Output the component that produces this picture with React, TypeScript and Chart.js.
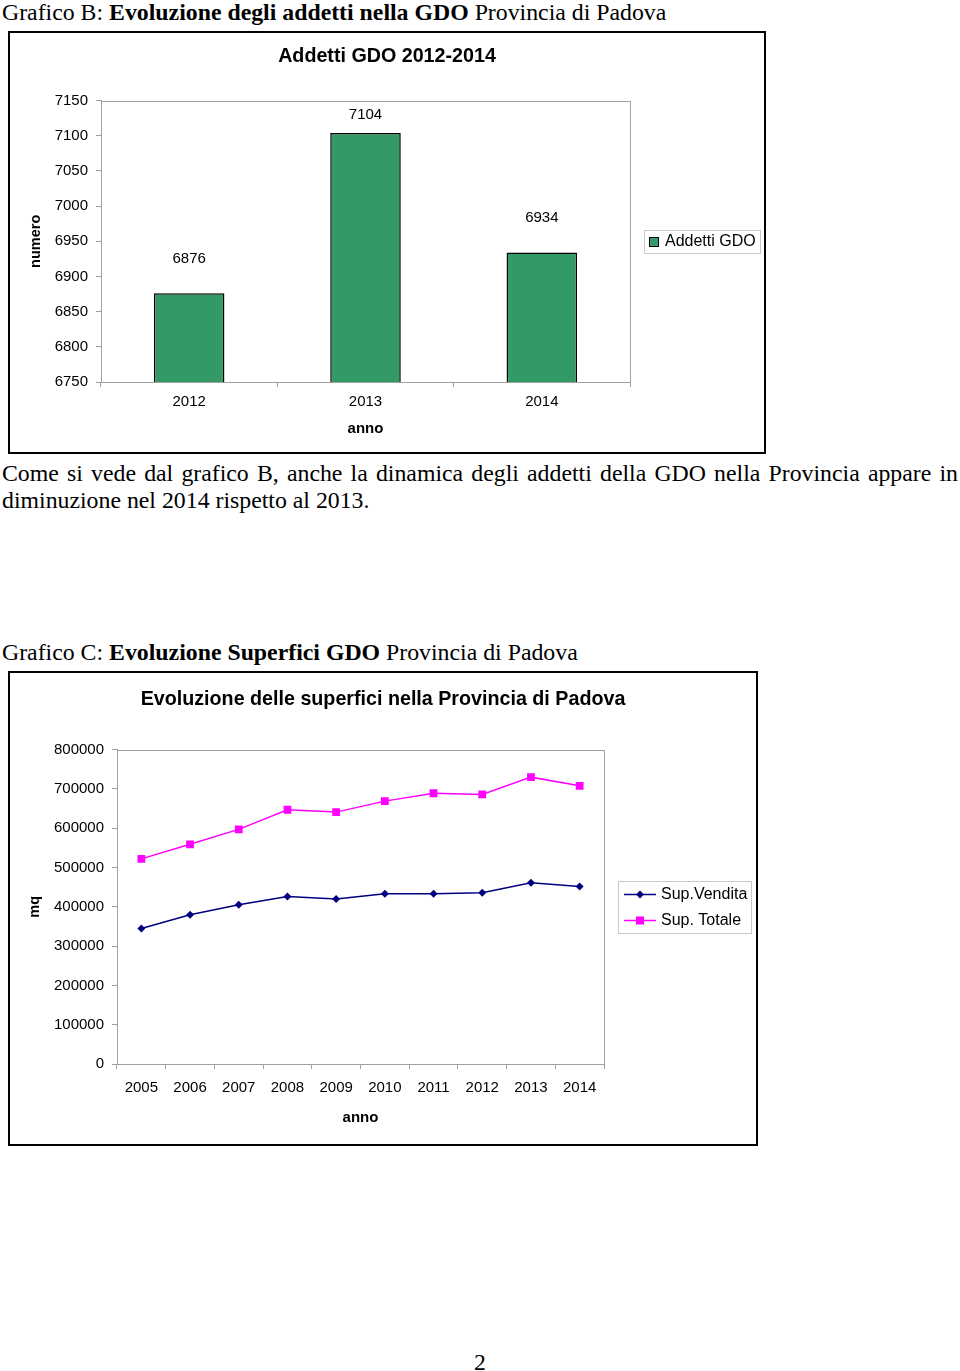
import React, { useEffect, useRef } from 'react';
import { Chart, registerables } from 'chart.js';

Chart.register(...registerables);

// ---------- DATA ----------
const addettiYears = ['2012', '2013', '2014'];
const addettiValues = [6876, 7104, 6934];
const addettiAxis = [6750, 7150, 50]; // min, max, step

const superficiYears = ['2005', '2006', '2007', '2008', '2009', '2010', '2011', '2012', '2013', '2014'];
const supVendita = [345000, 380000, 405000, 426000, 420000, 433000, 433000, 436000, 461000, 452000];
const supTotale = [522000, 559000, 597000, 647000, 641000, 669000, 689000, 686000, 730000, 708000];
const superficiAxis = [0, 800000, 100000]; // min, max, step

const SANS = "'Liberation Sans', Arial, sans-serif";
const SERIF = "'Liberation Serif', 'Times New Roman', serif";
const AXIS_GRAY = '#a0a0a0';

Chart.defaults.font.family = SANS;
Chart.defaults.color = '#000';

const plainNumber = (v: any) => String(v);

// ---------- PLUGINS ----------
const plotBorder = {
  id: 'plotBorder',
  beforeDatasetsDraw(chart: any) {
    const { ctx, chartArea: a } = chart;
    ctx.save();
    ctx.strokeStyle = AXIS_GRAY;
    ctx.lineWidth = 1;
    ctx.strokeRect(Math.round(a.left) + 0.5, Math.round(a.top) + 0.5, Math.round(a.width), Math.round(a.height));
    ctx.restore();
  },
};

function barLabels(values: number[]) {
  return {
    id: 'barLabels',
    afterDatasetsDraw(chart: any) {
      const { ctx, chartArea } = chart;
      const meta = chart.getDatasetMeta(0);
      ctx.save();
      ctx.font = `15px ${SANS}`;
      ctx.fillStyle = '#000';
      ctx.textAlign = 'center';
      ctx.textBaseline = 'middle';
      meta.data.forEach((bar: any, i: number) => {
        const y = Math.max(bar.y - 35, chartArea.top + 14);
        ctx.fillText(String(values[i]), bar.x, y);
      });
      ctx.restore();
    },
  };
}

function boxLegend(kind: 'bar' | 'line') {
  return {
    id: 'boxLegend',
    afterDraw(chart: any) {
      const { ctx, chartArea: a } = chart;
      const ds = chart.data.datasets;
      ctx.save();
      ctx.font = `16px ${SANS}`;
      const textW = Math.max(...ds.map((d: any) => ctx.measureText(d.label).width));
      const rowH = 26;
      const padL = kind === 'bar' ? 5 : 6;
      const markW = kind === 'bar' ? 10 : 32;
      const gap = kind === 'bar' ? 6 : 5;
      const padR = 4;
      const w = Math.round(padL + markW + gap + textW + padR);
      const h = kind === 'bar' ? 23 : ds.length * rowH;
      const left = Math.round(a.right + 14);
      const top = Math.round((a.top + a.bottom) / 2 - h / 2);
      ctx.strokeStyle = '#c8c8c8';
      ctx.lineWidth = 1;
      ctx.strokeRect(left + 0.5, top + 0.5, w, h);
      ds.forEach((d: any, i: number) => {
        const cy = top + (kind === 'bar' ? h / 2 + 0.5 : rowH / 2 + i * rowH + 0.5);
        const mx = left + padL;
        if (kind === 'bar') {
          ctx.fillStyle = d.backgroundColor;
          ctx.fillRect(mx, cy - 5, 10, 10);
          ctx.strokeStyle = '#000';
          ctx.lineWidth = 1;
          ctx.strokeRect(mx + 0.5, cy - 4.5, 9, 9);
        } else {
          ctx.strokeStyle = d.borderColor;
          ctx.lineWidth = 1.5;
          ctx.beginPath();
          ctx.moveTo(mx, cy);
          ctx.lineTo(mx + markW, cy);
          ctx.stroke();
          const cx = mx + markW / 2;
          ctx.fillStyle = d.borderColor;
          ctx.beginPath();
          if (d.pointStyle === 'rectRot') {
            const r = 4;
            ctx.moveTo(cx - r, cy);
            ctx.lineTo(cx, cy - r);
            ctx.lineTo(cx + r, cy);
            ctx.lineTo(cx, cy + r);
            ctx.closePath();
          } else {
            ctx.rect(cx - 4, cy - 4, 8, 8);
          }
          ctx.fill();
        }
        ctx.fillStyle = '#000';
        ctx.textAlign = 'left';
        ctx.textBaseline = 'middle';
        ctx.fillText(d.label, mx + markW + gap, cy);
      });
      ctx.restore();
    },
  };
}

function dummyRight(width: number) {
  return {
    type: 'linear',
    position: 'right',
    display: true,
    grid: { display: false, drawTicks: false },
    border: { display: false },
    ticks: { display: false },
    afterFit: (s: any) => {
      s.width = width;
    },
  };
}

// ---------- CHART B ----------
function AddettiChart() {
  const ref = useRef<HTMLCanvasElement>(null);
  useEffect(() => {
    const chart = new Chart(ref.current!, {
      type: 'bar',
      data: {
        labels: addettiYears,
        datasets: [
          {
            label: 'Addetti GDO',
            data: addettiValues,
            backgroundColor: '#339966',
            borderColor: '#000',
            borderWidth: 1.5,
            borderSkipped: false,
            categoryPercentage: 1,
            barPercentage: 0.4,
          },
        ],
      },
      options: {
        animation: false,
        responsive: false,
        layout: { padding: 0 },
        plugins: {
          legend: { display: false },
          tooltip: { enabled: false },
          title: {
            display: true,
            text: 'Addetti GDO 2012-2014',
            color: '#000',
            font: { family: SANS, size: 19.7, weight: 'bold', lineHeight: 1.2 },
            padding: { top: 12, bottom: 32 },
          },
        },
        scales: {
          x: {
            offset: true,
            grid: { display: true, drawOnChartArea: false, drawTicks: true, tickLength: 5, color: AXIS_GRAY, offset: true },
            border: { color: AXIS_GRAY },
            ticks: { font: { size: 15 }, color: '#000', padding: 6 },
            title: { display: true, text: 'anno', font: { size: 15, weight: 'bold' }, color: '#000', padding: { top: 0, bottom: 14 } },
            afterFit: (s: any) => {
              s.height = 70;
            },
          },
          y: {
            min: addettiAxis[0],
            max: addettiAxis[1],
            grid: { display: true, drawOnChartArea: false, drawTicks: true, tickLength: 5, color: AXIS_GRAY },
            border: { color: AXIS_GRAY },
            ticks: { stepSize: addettiAxis[2], font: { size: 15 }, color: '#000', padding: 8, callback: plainNumber },
            title: { display: true, text: 'numero', font: { size: 14.5, weight: 'bold' }, color: '#000', padding: { top: 17, bottom: 0 } },
            afterFit: (s: any) => {
              s.width = 91;
            },
          },
          yR: dummyRight(134) as any,
        },
      },
      plugins: [plotBorder, barLabels(addettiValues), boxLegend('bar')],
    });
    return () => chart.destroy();
  }, []);
  return <canvas ref={ref} width={754} height={419} style={{ display: 'block' }} />;
}

// ---------- CHART C ----------
function SuperficiChart() {
  const ref = useRef<HTMLCanvasElement>(null);
  useEffect(() => {
    const chart = new Chart(ref.current!, {
      type: 'line',
      data: {
        labels: superficiYears,
        datasets: [
          {
            label: 'Sup.Vendita',
            data: supVendita,
            borderColor: '#000080',
            backgroundColor: '#000080',
            borderWidth: 1.5,
            pointStyle: 'rectRot',
            pointRadius: 4,
            pointBorderWidth: 0,
            tension: 0,
          },
          {
            label: 'Sup. Totale',
            data: supTotale,
            borderColor: '#FF00FF',
            backgroundColor: '#FF00FF',
            borderWidth: 1.5,
            pointStyle: 'rect',
            pointRadius: 5.5,
            pointBorderWidth: 0,
            tension: 0,
          },
        ],
      },
      options: {
        animation: false,
        responsive: false,
        layout: { padding: 0 },
        plugins: {
          legend: { display: false },
          tooltip: { enabled: false },
          title: {
            display: true,
            text: 'Evoluzione delle superfici nella Provincia di Padova',
            color: '#000',
            font: { family: SANS, size: 19.7, weight: 'bold', lineHeight: 1.2 },
            padding: { top: 15, bottom: 38 },
          },
        },
        scales: {
          x: {
            offset: true,
            grid: { display: true, drawOnChartArea: false, drawTicks: true, tickLength: 5, color: AXIS_GRAY, offset: true },
            border: { color: AXIS_GRAY },
            ticks: { font: { size: 15 }, color: '#000', padding: 10 },
            title: { display: true, text: 'anno', font: { size: 15, weight: 'bold' }, color: '#000', padding: { top: 0, bottom: 17 } },
            afterFit: (s: any) => {
              s.height = 80;
            },
          },
          y: {
            min: superficiAxis[0],
            max: superficiAxis[1],
            grid: { display: true, drawOnChartArea: false, drawTicks: true, tickLength: 5, color: AXIS_GRAY },
            border: { color: AXIS_GRAY },
            ticks: { stepSize: superficiAxis[2], font: { size: 15 }, color: '#000', padding: 8, callback: plainNumber },
            title: { display: true, text: 'mq', font: { size: 14.5, weight: 'bold' }, color: '#000', padding: { top: 16, bottom: 0 } },
            afterFit: (s: any) => {
              s.width = 107;
            },
          },
          yR: dummyRight(152) as any,
        },
      },
      plugins: [plotBorder, boxLegend('line')],
    });
    return () => chart.destroy();
  }, []);
  return <canvas ref={ref} width={746} height={471} style={{ display: 'block' }} />;
}

export default function App() {
  const abs = (o: React.CSSProperties): React.CSSProperties => ({ position: 'absolute', ...o });
  return (
    <div style={{ position: 'absolute', left: 0, top: 0, width: 960, height: 1371, background: '#fff', color: '#000', fontFamily: SERIF }}>
      <div style={abs({ left: 2, top: -1, fontSize: 23.8, lineHeight: '26px', whiteSpace: 'nowrap' })}>
        Grafico B: <b>Evoluzione degli addetti nella GDO</b> Provincia di Padova
      </div>
      <div style={abs({ left: 8, top: 31, width: 758, height: 423, border: '2px solid #000', boxSizing: 'border-box' })}>
        <AddettiChart />
      </div>
      <div style={abs({ left: 2, top: 460, width: 956, fontSize: 23.8, lineHeight: '27px' })}>
        <div style={{ textAlign: 'justify', textAlignLast: 'justify', whiteSpace: 'nowrap' }}>
          Come si vede dal grafico B, anche la dinamica degli addetti della GDO nella Provincia appare in
        </div>
        <div>diminuzione nel 2014 rispetto al 2013.</div>
      </div>
      <div style={abs({ left: 2, top: 639, fontSize: 23.8, lineHeight: '26px', whiteSpace: 'nowrap' })}>
        Grafico C: <b>Evoluzione Superfici GDO</b> Provincia di Padova
      </div>
      <div style={abs({ left: 8, top: 671, width: 750, height: 475, border: '2px solid #000', boxSizing: 'border-box' })}>
        <SuperficiChart />
      </div>
      <div style={abs({ left: 0, top: 1349, width: 960, textAlign: 'center', fontSize: 23.8, lineHeight: '26px' })}>2</div>
    </div>
  );
}
